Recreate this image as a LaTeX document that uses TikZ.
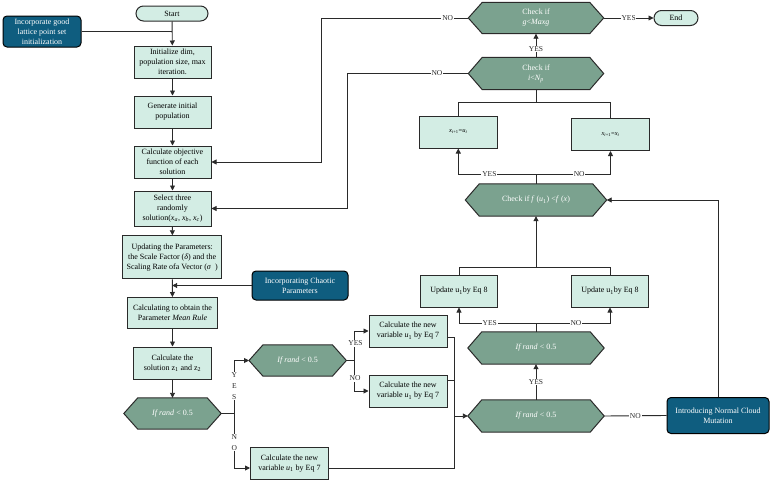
\documentclass[tikz,border=0pt]{standalone}
\usepackage{fontspec}
\setmainfont{Liberation Serif}
\usetikzlibrary{arrows.meta,backgrounds}
\definecolor{boxfill}{HTML}{D3EDE4}
\definecolor{hexfill}{HTML}{7BA28F}
\definecolor{darkblue}{HTML}{0F5D7F}
\definecolor{edgec}{HTML}{2A2A2A}
\tikzset{
 base/.style={font=\fontsize{8}{10}\selectfont, align=center, inner sep=1pt},
 proc/.style={base, draw=edgec, line width=1pt, fill=boxfill, minimum width=77pt, minimum height=32pt},
 term/.style={base, draw=edgec, line width=1pt, fill=boxfill, rounded corners=7.5pt, minimum height=15pt},
 note/.style={base, draw=black, line width=1pt, fill=darkblue, text=white, rounded corners=4pt},
 hexnode/.style={base, text=white},
 hexshape/.style={draw=edgec, line width=1pt, fill=hexfill},
 line/.style={draw=edgec, line width=0.9pt},
 arr/.style={line, -{Triangle[length=5pt,width=5pt]}},
 lbl/.style={font=\fontsize{7.5}{8}\selectfont, fill=white, inner sep=0.8pt, text=edgec},
}
\newcommand\myhex[5]{%
 \node[hexnode, minimum width=#3, minimum height=#4] (#1) at (#2) {#5};
 \begin{pgfonlayer}{background}
 \draw[hexshape] (#1.west) -- ([xshift=14pt]#1.north west) -- ([xshift=-14pt]#1.north east)
   -- (#1.east) -- ([xshift=-14pt]#1.south east) -- ([xshift=14pt]#1.south west) -- cycle;
 \end{pgfonlayer}}
\begin{document}
\begin{tikzpicture}[x=1pt,y=-1pt]
\useasboundingbox (0,0) rectangle (772,482);
% left column
\node[term, minimum width=72pt] (start) at (172,13.5) {Start};
\node[note, minimum width=78pt, minimum height=31pt] (lattice) at (42,31.5) {Incorporate good\\lattice point set\\initialization};
\node[proc] (init) at (172.5,62) {Initialize dim,\\population size, max\\iteration.};
\node[proc] (gen) at (172.5,112) {Generate initial\\population};
\node[proc] (calcobj) at (172.5,162) {Calculate objective\\function of each\\solution};
\node[proc, minimum height=35pt] (select) at (172.5,208.5) {Select three\\randomly\\solution(\textit{x}\textsubscript{\textit{a}}, \textit{x}\textsubscript{\textit{b}}, \textit{x}\textsubscript{\textit{c}})};
\node[proc, minimum width=99pt, minimum height=43pt] (update) at (172.2,257.3) {Updating the Parameters:\\the Scale Factor (\textit{δ}) and the\\Scaling Rate ofa Vector (\textit{σ}\ \ )};
\node[proc, minimum width=90pt, minimum height=31pt] (calcmean) at (172.5,313) {Calculating to obtain the\\Parameter \textit{Mean Rule}};
\node[proc, minimum width=78pt] (calcsol) at (172.5,363) {Calculate the\\solution z\textsubscript{1} and z\textsubscript{2}};
\myhex{hexA}{172.5,413.5}{97pt}{31pt}{\textit{If rand} < 0.5}
\node[note, minimum width=96pt, minimum height=29pt] (chaos) at (300,285.5) {Incorporating Chaotic\\Parameters};
% middle
\myhex{hexB}{297.7,360.5}{97pt}{31pt}{\textit{If rand} < 0.5}
\node[proc, minimum width=78pt] (box7a) at (408,331) {Calculate the new\\variable \textit{u}\textsubscript{1} by Eq 7};
\node[proc, minimum width=78pt] (box7b) at (408,391) {Calculate the new\\variable \textit{u}\textsubscript{1} by Eq 7};
\node[proc, minimum width=78pt] (box7c) at (289.5,463.5) {Calculate the new\\variable \textit{u}\textsubscript{1} by Eq 7};
% right
\myhex{hexC}{536,416}{136pt}{32pt}{\textit{If rand} < 0.5}
\myhex{hexD}{536,348}{136pt}{32pt}{\textit{If rand} < 0.5}
\node[note, minimum width=102pt, minimum height=36pt] (cloud) at (718,415.5) {Introducing Normal Cloud\\Mutation};
\node[proc] (updL) at (459,291) {Update u\textsubscript{1}by Eq 8};
\node[proc] (updR) at (610,291) {Update u\textsubscript{1}by Eq 8};
\myhex{hexE}{536,200}{141pt}{32pt}{Check if \textit{f} (\textit{u}\textsubscript{1}) <\textit{f} (\textit{x})}
\node[proc, minimum width=78pt, font=\fontsize{6.5}{8}\selectfont] (xL) at (458.3,132) {\textit{x}\textsubscript{\textit{i}+1}=\textit{u}\textsubscript{\textit{i}}};
\node[proc, minimum width=78pt, font=\fontsize{6.5}{8}\selectfont] (xR) at (610.5,134.5) {\textit{x}\textsubscript{\textit{i}+1}=\textit{x}\textsubscript{\textit{i}}};
\myhex{hexF}{536,73.5}{135pt}{32pt}{Check if\\\textit{i}<\textit{N}\textsubscript{\textit{p}}}
\myhex{hexG}{536,18}{135pt}{31pt}{Check if\\\textit{g}<\textit{Maxg}}
\node[term, minimum width=44pt] (stop) at (676,18) {End};
% connectors left column
\draw[arr] (start) -- (init);
\draw[line] (lattice.east) -- (lattice.east -| start.south);
\draw[arr] (init) -- (gen);
\draw[arr] (gen) -- (calcobj);
\draw[arr] (calcobj) -- (select);
\draw[arr] (select) -- (update);
\draw[arr] (update) -- (calcmean);
\draw[arr] (calcmean) -- (calcsol);
\draw[arr] (calcsol) -- (hexA);
\draw[arr] (chaos.west) -- (chaos.west -| update.south);
% hexA branches
\coordinate (jA) at (234.3,413.5);
\draw[line] (hexA.east) -- (jA);
\draw[arr] (jA) |- (hexB.west);
\draw[arr] (jA) |- ([yshift=-4.5pt]box7c.west);
\node[lbl, font=\fontsize{7.5}{11}\selectfont, align=center] (lyA) at (234.3,386) {Y\\E\\S};
\node[lbl, font=\fontsize{7.5}{11}\selectfont, align=center] (lnA) at (234.3,442.5) {N\\O};
% hexB branches
\coordinate (jB) at (354.3,360.5);
\draw[line] (hexB.east) -- (jB);
\draw[arr] (jB) |- (box7a.west);
\draw[arr] (jB) |- (box7b.west);
\node[lbl] (lyB) at (355.5,343.3) {YES};
\node[lbl] (lnB) at (355,378.3) {NO};
% merge into hexC
\coordinate (jC) at (454.3,416);
\draw[line] ([yshift=-6.5pt]box7a.east) -| (jC);
\draw[line] ([yshift=11pt]box7b.east) -| (jC);
\draw[line] ([yshift=-4.5pt]box7c.east) -| (jC);
\draw[arr] (jC) -- (hexC.west);
\draw[arr] (hexC.north) -- node[lbl]{YES} (hexD.south);
\draw[line] (hexC.east) -- node[lbl]{NO} (cloud.west);
\draw[arr] (cloud.north) |- (hexE.east);
% hexD branches
\coordinate (jD) at (536,323.3);
\draw[line] (hexD.north) -- (jD);
\draw[arr] (jD) -| node[lbl, pos=0.3]{YES} (updL.south);
\draw[arr] (jD) -| node[lbl, pos=0.27]{NO} (updR.south);
\coordinate (jE) at (536,267.3);
\draw[line] (updL.north) |- (jE) -| (updR.north);
\draw[arr] (jE) -- (hexE.south);
% hexE branches
\coordinate (jF) at (536,174);
\draw[line] (hexE.north) -- (jF);
\draw[arr] (jF) -| node[lbl, pos=0.3]{YES} (xL.south);
\draw[arr] (jF) -| node[lbl, pos=0.29]{NO} (xR.south);
\coordinate (jG) at (536,102.7);
\draw[line] (xL.north) |- (jG) -| (xR.north);
\draw[line] (jG) -- (hexF.south);
% top checks
\draw[arr] (hexF.north) -- node[lbl, pos=0.35]{YES} (hexG.south);
\draw[arr] (hexG.east) -- node[lbl]{YES} (stop.west);
\coordinate (jH) at (321,18);
\draw[arr] (hexG.west) -- node[lbl, pos=0.14]{NO} (jH) |- (calcobj.east);
\coordinate (jI) at (347.7,73.5);
\draw[arr] (hexF.west) -- node[lbl, pos=0.26]{NO} (jI) |- (select.east);
\end{tikzpicture}
\end{document}
